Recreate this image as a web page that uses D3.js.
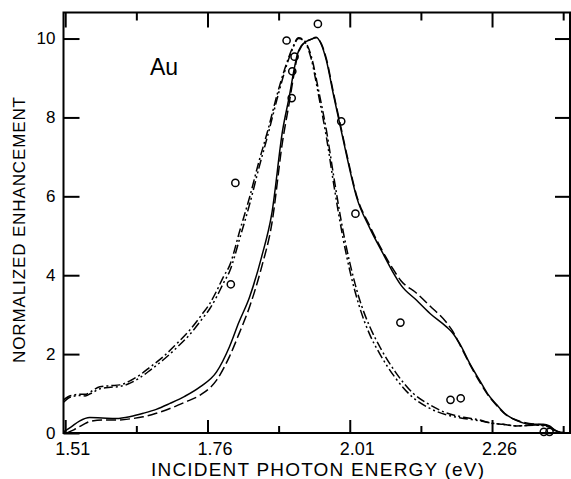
<!DOCTYPE html>
<html>
<head>
<meta charset="utf-8">
<script src="https://cdn.jsdelivr.net/npm/d3@7/dist/d3.min.js"></script>
<style>
  html, body { margin: 0; padding: 0; background: #fff; }
  svg { display: block; }
  text { font-family: "Liberation Sans", Arial, "DejaVu Sans", sans-serif; fill: #000; }
</style>
</head>
<body>
<script>
// ---------------- data ----------------
const xMajorTicks = [1.51, 1.76, 2.01, 2.26];
const xMinorTicks = [1.635, 1.885, 2.135, 2.385];
const yTicks = [0, 2, 4, 6, 8, 10];
const xTitle = "INCIDENT PHOTON ENERGY (eV)";
const yTitle = "NORMALIZED ENHANCEMENT";
const panelLabel = "Au";

// solid curve [energy eV, enhancement]
const solidCurve = [
  [1.507,0.03],[1.52,0.15],[1.535,0.30],[1.553,0.39],[1.575,0.38],[1.600,0.37],[1.625,0.42],
  [1.647,0.50],[1.670,0.60],[1.694,0.75],[1.720,0.93],[1.747,1.17],[1.776,1.55],[1.799,2.20],
  [1.815,2.80],[1.834,3.45],[1.855,4.46],[1.873,5.56],[1.892,7.67],[1.904,8.55],[1.912,9.20],
  [1.918,9.60],[1.925,9.82],[1.933,9.92],[1.942,9.98],[1.951,10.03],[1.960,9.85],[1.969,9.44],
  [1.981,8.60],[1.993,7.80],[2.005,7.00],[2.022,5.98],[2.045,5.20],[2.068,4.56],[2.085,4.10],
  [2.100,3.75],[2.127,3.37],[2.151,3.03],[2.180,2.69],[2.190,2.55],[2.203,2.27],[2.221,1.76],
  [2.238,1.34],[2.252,1.00],[2.268,0.72],[2.282,0.50],[2.297,0.36],[2.310,0.28],[2.325,0.22],
  [2.338,0.22],[2.350,0.22],[2.361,0.18],[2.370,0.08],[2.380,0.02],[2.397,0.0]
];
// dashed curve
const dashedCurve = [
  [1.513,0.0],[1.525,0.08],[1.540,0.20],[1.555,0.30],[1.575,0.33],[1.600,0.33],[1.625,0.36],
  [1.647,0.41],[1.670,0.50],[1.694,0.62],[1.720,0.78],[1.747,0.96],[1.776,1.34],[1.799,1.95],
  [1.815,2.50],[1.834,3.20],[1.855,4.20],[1.873,5.30],[1.892,7.40],[1.904,8.40],[1.912,9.10],
  [1.918,9.55],[1.925,9.80],[1.933,9.92],[1.942,9.98],[1.951,10.02],[1.960,9.87],[1.969,9.48],
  [1.981,8.65],[1.993,7.85],[2.005,7.05],[2.022,6.02],[2.045,5.25],[2.068,4.60],[2.085,4.18],
  [2.100,3.86],[2.127,3.55],[2.151,3.22],[2.180,2.80],[2.190,2.60],[2.203,2.25],[2.221,1.74],
  [2.238,1.30],[2.252,0.98],[2.268,0.70],[2.282,0.49],[2.297,0.36],[2.310,0.29],[2.325,0.24],
  [2.338,0.22],[2.350,0.20],[2.361,0.16],[2.370,0.07],[2.380,0.02],[2.397,0.0]
];
// dash-dot curve
const dashDotCurve = [
  [1.507,0.84],[1.515,0.92],[1.524,0.96],[1.535,0.98],[1.545,0.98],[1.555,1.05],[1.571,1.17],
  [1.590,1.20],[1.606,1.22],[1.625,1.33],[1.641,1.47],[1.660,1.68],[1.682,1.93],[1.705,2.25],
  [1.729,2.61],[1.750,3.00],[1.764,3.28],[1.776,3.60],[1.788,3.96],[1.799,4.25],[1.817,5.14],
  [1.835,6.03],[1.850,6.86],[1.866,7.67],[1.882,8.56],[1.896,9.24],[1.909,9.75],[1.920,10.02],
  [1.930,9.95],[1.942,9.57],[1.956,8.63],[1.969,7.67],[1.983,6.40],[1.998,5.14],[2.012,4.20],
  [2.026,3.44],[2.045,2.70],[2.063,2.18],[2.090,1.55],[2.121,1.01],[2.150,0.72],[2.180,0.51],
  [2.210,0.40],[2.238,0.33],[2.259,0.25],[2.279,0.22],[2.303,0.18],[2.338,0.20],[2.361,0.16],
  [2.373,0.03],[2.397,0.0]
];
// dash-dot-dot curve
const dashDotDotCurve = [
  [1.507,0.78],[1.515,0.88],[1.524,0.93],[1.535,0.95],[1.545,0.94],[1.555,1.00],[1.571,1.12],
  [1.590,1.16],[1.606,1.18],[1.625,1.27],[1.641,1.40],[1.660,1.60],[1.682,1.85],[1.705,2.15],
  [1.729,2.50],[1.750,2.88],[1.764,3.15],[1.776,3.45],[1.788,3.80],[1.799,4.10],[1.817,4.95],
  [1.835,5.85],[1.850,6.70],[1.866,7.55],[1.882,8.45],[1.896,9.18],[1.909,9.72],[1.920,10.0],
  [1.930,9.93],[1.942,9.50],[1.956,8.50],[1.969,7.50],[1.983,6.20],[1.998,4.95],[2.012,4.00],
  [2.026,3.25],[2.045,2.50],[2.063,2.00],[2.090,1.40],[2.121,0.90],[2.150,0.63],[2.180,0.46],
  [2.210,0.37],[2.238,0.31],[2.259,0.25],[2.279,0.22],[2.303,0.18],[2.338,0.20],[2.361,0.15],
  [2.373,0.03],[2.397,0.0]
];
// measured points (open circles)
const pointsE = [1.954, 1.899, 1.913, 1.909, 1.908, 1.995, 1.809, 1.801, 2.020, 2.099, 2.187, 2.205, 2.351, 2.361];
const pointsV = [10.37, 9.95, 9.54, 9.17, 8.49, 7.90, 6.34, 3.77, 5.56, 2.80, 0.84, 0.88, 0.03, 0.03];

// ---------------- layout ----------------
const W = 571, H = 479;
const L = 63.5, R = 570, T = 12.5, B = 433;
const x = d3.scaleLinear().domain([1.507, 2.397]).range([L, R]);
const y = d3.scaleLinear().domain([0, 10.66]).range([B, T]);

const svg = d3.select("body").append("svg").attr("width", W).attr("height", H);
svg.append("rect").attr("width", W).attr("height", H).attr("fill", "#fff");

const font = '"Liberation Sans", Arial, sans-serif';

function styleAxis(g) {
  g.select(".domain").remove();
  g.selectAll(".tick line").attr("stroke", "#000").attr("stroke-width", 2);
  g.selectAll(".tick text").attr("font-family", font).attr("fill", "#000");
}

// bottom major
svg.append("g").attr("transform", `translate(0,${B})`)
  .call(d3.axisBottom(x).tickValues(xMajorTicks).tickSize(-13).tickPadding(22)
        .tickFormat(d3.format(".2f")))
  .call(styleAxis)
  .call(g => g.selectAll(".tick text").attr("font-size", 18).attr("dx", 7).attr("dy", 0));
// bottom minor
svg.append("g").attr("transform", `translate(0,${B})`)
  .call(d3.axisBottom(x).tickValues(xMinorTicks).tickSize(-7).tickFormat(""))
  .call(styleAxis);
// top major/minor
svg.append("g").attr("transform", `translate(0,${T})`)
  .call(d3.axisTop(x).tickValues(xMajorTicks).tickSize(-15).tickFormat(""))
  .call(styleAxis);
svg.append("g").attr("transform", `translate(0,${T})`)
  .call(d3.axisTop(x).tickValues(xMinorTicks).tickSize(-8).tickFormat(""))
  .call(styleAxis);
// left
svg.append("g").attr("transform", `translate(${L},0)`)
  .call(d3.axisLeft(y).tickValues(yTicks).tickSize(-16).tickPadding(8).tickFormat(d3.format("d")))
  .call(styleAxis)
  .call(g => g.selectAll(".tick text").attr("font-size", 17));
// right
svg.append("g").attr("transform", `translate(${R},0)`)
  .call(d3.axisRight(y).tickValues(yTicks.filter(d => d > 0)).tickSize(-15).tickFormat(""))
  .call(styleAxis);

// frame
svg.append("rect").attr("x", L).attr("y", T).attr("width", R - L).attr("height", B - T)
  .attr("fill", "none").attr("stroke", "#000").attr("stroke-width", 2);

// curves
const line = d3.line().x(d => x(d[0])).y(d => y(d[1])).curve(d3.curveMonotoneX);
const series = [
  { data: solidCurve, dash: null },
  { data: dashedCurve, dash: "10,4" },
  { data: dashDotCurve, dash: "9,3,2,3" },
  { data: dashDotDotCurve, dash: "9,3,2,3,2,3" }
];
svg.append("g").selectAll("path").data(series).join("path")
  .attr("d", d => line(d.data))
  .attr("fill", "none").attr("stroke", "#000").attr("stroke-width", 1.5)
  .attr("stroke-dasharray", d => d.dash);

// points
svg.append("g").selectAll("circle").data(pointsE.map((e, i) => [e, pointsV[i]])).join("circle")
  .attr("cx", d => x(d[0])).attr("cy", d => y(d[1])).attr("r", 3.6)
  .attr("fill", "none").attr("stroke", "#000").attr("stroke-width", 1.5);

// labels
svg.append("text").attr("x", 150).attr("y", 75).attr("font-size", 23).text(panelLabel);
svg.append("text").attr("x", 317.5).attr("y", 476).attr("text-anchor", "middle")
  .attr("font-size", 19).attr("textLength", 333).attr("lengthAdjust", "spacing").text(xTitle);
svg.append("text").attr("transform", "translate(25,230) rotate(-90)").attr("text-anchor", "middle")
  .attr("font-size", 17).attr("textLength", 266).attr("lengthAdjust", "spacing").text(yTitle);
</script>
</body>
</html>
